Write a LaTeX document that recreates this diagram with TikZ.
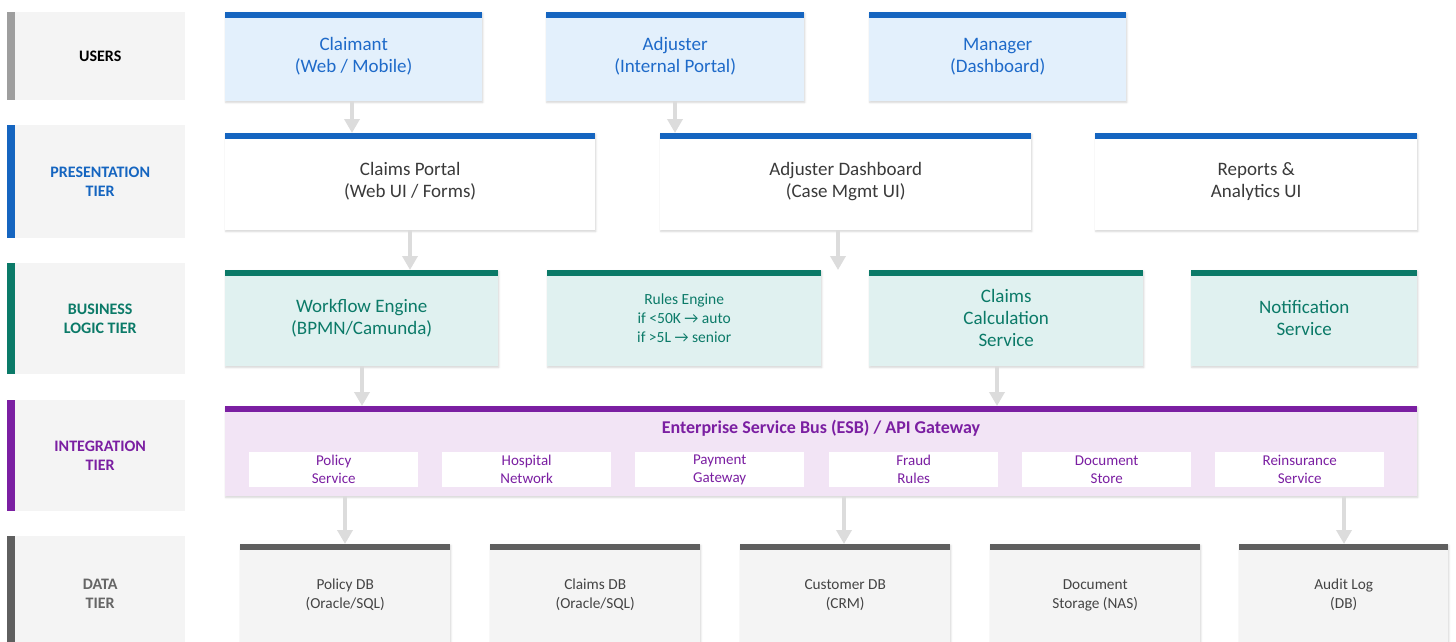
\documentclass[tikz,border=0pt]{standalone}
\usepackage{fontspec}
\setmainfont{Carlito}
\usetikzlibrary{arrows.meta,shadows.blur}

\definecolor{labfill}{HTML}{F4F4F4}
\definecolor{usersbar}{HTML}{9E9E9E}
\definecolor{userfill}{HTML}{E3F0FC}
\definecolor{userbar}{HTML}{1565C0}
\definecolor{usertext}{HTML}{1E6AC9}
\definecolor{presbar}{HTML}{1565C0}
\definecolor{prestext}{HTML}{3A3A3A}
\definecolor{bizbar}{HTML}{0B7A68}
\definecolor{bizfill}{HTML}{E0F1F0}
\definecolor{biztext}{HTML}{0B7A68}
\definecolor{intbar}{HTML}{7B1FA2}
\definecolor{intfill}{HTML}{F2E4F5}
\definecolor{inttext}{HTML}{7B1FA2}
\definecolor{databar}{HTML}{5F5F5F}
\definecolor{datafill}{HTML}{F4F4F4}
\definecolor{datatext}{HTML}{444444}
\definecolor{datalab}{HTML}{666666}
\definecolor{flowgray}{HTML}{DCDCDC}

\begin{document}
\begin{tikzpicture}[x=1pt,y=-1pt,
  box/.style={rectangle, draw=none, inner sep=0pt, anchor=north west, align=center},
  topbar/.style={path picture={\fill[#1] (path picture bounding box.north west)
      rectangle ([yshift=-6pt]path picture bounding box.north east);}},
  soft/.style={blur shadow={shadow xshift=0.6pt, shadow yshift=-1.2pt,
      shadow blur radius=2pt, shadow blur steps=6, shadow opacity=18}},
  userbox/.style={box, soft, fill=userfill, topbar=userbar, text=usertext,
      minimum height=89pt, font=\fontsize{19}{22}\selectfont},
  presbox/.style={box, soft, fill=white, topbar=presbar, text=prestext,
      minimum height=97pt, font=\fontsize{19}{22}\selectfont},
  bizbox/.style={box, soft, fill=bizfill, topbar=bizbar, text=biztext,
      minimum height=96pt, font=\fontsize{19}{22}\selectfont},
  esbbox/.style={box, soft, fill=intfill, topbar=intbar,
      minimum width=1192pt, minimum height=90pt},
  subbox/.style={box, fill=white, text=inttext, minimum width=169pt,
      minimum height=35pt, font=\fontsize{15}{18}\selectfont},
  databox/.style={box, soft, fill=datafill, topbar=databar, text=datatext,
      minimum height=102pt, font=\fontsize{15.3}{19}\selectfont},
  tierlab/.style={box, fill=labfill, minimum width=170pt,
      font=\bfseries\fontsize{16}{19}\selectfont},
  flow/.style={draw=flowgray, line width=3.5pt,
      -{Triangle[width=15pt,length=14pt]}}
]
\useasboundingbox (0,0) rectangle (1456,641);
\clip (0,0) rectangle (1456,641);

% ---- tier labels on the left, each with a coloured side bar
\node[tierlab, minimum height=88pt, text=black] (labusers) at (15,12) {USERS};
\node[tierlab, minimum height=113pt, text=presbar] (labpres) at (15,125) {PRESENTATION\\TIER};
\node[tierlab, minimum height=111pt, text=bizbar] (labbiz) at (15,263) {BUSINESS\\LOGIC TIER};
\node[tierlab, minimum height=111pt, text=intbar] (labint) at (15,400) {INTEGRATION\\TIER};
\node[tierlab, minimum height=116pt, text=datalab] (labdata) at (15,536) {DATA\\TIER};
\fill[usersbar] (labusers.north west) rectangle ([xshift=-8pt]labusers.south west);
\fill[presbar] (labpres.north west) rectangle ([xshift=-8pt]labpres.south west);
\fill[bizbar] (labbiz.north west) rectangle ([xshift=-8pt]labbiz.south west);
\fill[intbar] (labint.north west) rectangle ([xshift=-8pt]labint.south west);
\fill[databar] (labdata.north west) rectangle ([xshift=-8pt]labdata.south west);

% ---- users
\node[userbox, minimum width=257pt] (claimant) at (225,12) {Claimant\\(Web / Mobile)};
\node[userbox, minimum width=258pt] (adjuster) at (546,12) {Adjuster\\(Internal Portal)};
\node[userbox, minimum width=257pt] (manager) at (869,12) {Manager\\(Dashboard)};

% ---- presentation tier
\node[presbox, minimum width=370pt] (portal) at (225,133) {Claims Portal\\(Web UI / Forms)};
\node[presbox, minimum width=371pt] (dash) at (660,133) {Adjuster Dashboard\\(Case Mgmt UI)};
\node[presbox, minimum width=322pt] (reports) at (1095,133) {Reports \&\\Analytics UI};

% ---- business logic tier
\node[bizbox, minimum width=273pt] (workflow) at (225,270) {Workflow Engine\\(BPMN/Camunda)};
\node[bizbox, minimum width=274pt, font=\fontsize{15.5}{19}\selectfont] (rules) at (547,270)
  {Rules Engine\\if <50K \char"2192{} auto\\if >5L \char"2192{} senior};
\node[bizbox, minimum width=274pt] (calc) at (869,270) {Claims\\Calculation\\Service};
\node[bizbox, minimum width=226pt] (notify) at (1191,270) {Notification\\Service};
\coordinate (dashout) at (838,270);

% ---- integration tier
\node[esbbox] (esb) at (225,406) {};
\node[text=inttext, font=\bfseries\fontsize{18}{20}\selectfont] (esbtitle) at (821,428)
  {Enterprise Service Bus (ESB) / API Gateway};
\node[subbox] (svpolicy) at (249,452) {Policy\\Service};
\node[subbox] (svhosp) at (442,452) {Hospital\\Network};
\node[subbox] (svpay) at (635,452) {Payment\\Gateway};
\node[subbox] (svfraud) at (829,452) {Fraud\\Rules};
\node[subbox] (svdoc) at (1022,452) {Document\\Store};
\node[subbox] (svreins) at (1215,452) {Reinsurance\\Service};

% ---- data tier
\node[databox, minimum width=210pt] (policydb) at (240,544) {Policy DB\\(Oracle/SQL)};
\node[databox, minimum width=210pt] (claimsdb) at (490,544) {Claims DB\\(Oracle/SQL)};
\node[databox, minimum width=210pt] (customerdb) at (740,544) {Customer DB\\(CRM)};
\node[databox, minimum width=210pt] (docstorage) at (990,544) {Document\\Storage (NAS)};
\node[databox, minimum width=209pt] (auditlog) at (1239,544) {Audit Log\\(DB)};

% ---- flows between tiers
\draw[flow] ([xshift=127pt]claimant.south west) -- ([xshift=127pt]portal.north west);
\draw[flow] ([xshift=129pt]adjuster.south west) -- ([xshift=15pt]dash.north west);
\draw[flow] ([xshift=185pt]portal.south west) -- ([xshift=185pt]workflow.north west);
\draw[flow] ([xshift=178pt]dash.south west) -- (dashout);
\draw[flow] ([xshift=137pt]workflow.south west) -- ([xshift=137pt]esb.north west);
\draw[flow] ([xshift=128pt]calc.south west) -- ([xshift=772pt]esb.north west);
\draw[flow] ([xshift=120pt]esb.south west) -- ([xshift=105pt]policydb.north west);
\draw[flow] ([xshift=619pt]esb.south west) -- ([xshift=104pt]customerdb.north west);
\draw[flow] ([xshift=1119pt]esb.south west) -- ([xshift=105pt]auditlog.north west);
\end{tikzpicture}
\end{document}
